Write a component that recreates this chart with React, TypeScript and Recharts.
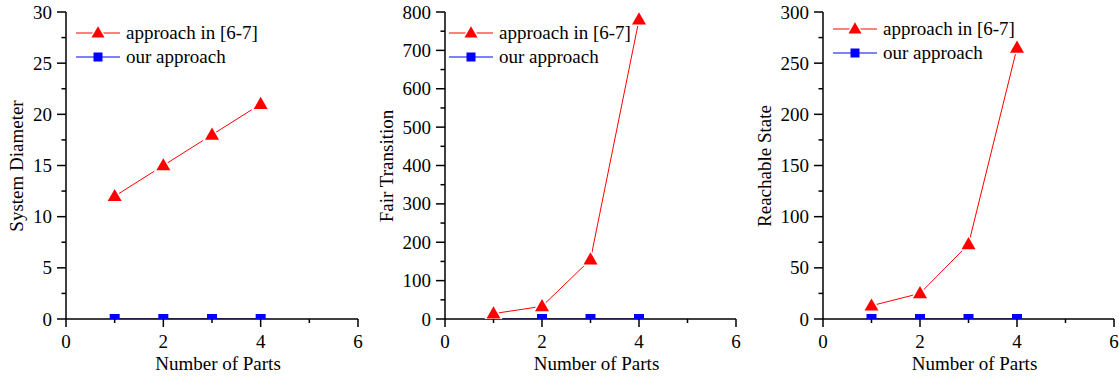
import React from "react";
import { LineChart, Line, XAxis, YAxis, Legend } from "recharts";

// x positions (number of parts) and axis ticks
const parts = [1, 2, 3, 4];
const xTicks = [0, 1, 2, 3, 4, 5, 6];
const xLabels = [0, 2, 4, 6];

const seriesNames = ["approach in [6-7]", "our approach"];

// System Diameter
const diameterPrior = [12, 15, 18, 21];
const diameterOurs = [0, 0, 0, 0];
const diameterTicks = [0, 2.5, 5, 7.5, 10, 12.5, 15, 17.5, 20, 22.5, 25, 27.5, 30];
const diameterLabels = [0, 5, 10, 15, 20, 25, 30];

// Fair Transition
const transitionPrior = [14, 33, 155, 780];
const transitionOurs = [0, 0, 0, 0];
const transitionTicks = [0, 50, 100, 150, 200, 250, 300, 350, 400, 450, 500, 550, 600, 650, 700, 750, 800];
const transitionLabels = [0, 100, 200, 300, 400, 500, 600, 700, 800];

// Reachable State
const reachablePrior = [13, 25, 73, 265];
const reachableOurs = [0, 0, 0, 0];
const reachableTicks = [0, 25, 50, 75, 100, 125, 150, 175, 200, 225, 250, 275, 300];
const reachableLabels = [0, 50, 100, 150, 200, 250, 300];

const FONT = "Liberation Serif";
const RED = "#ff0000";
const BLUE = "#0000ff";
const txt = { fontFamily: FONT, fontSize: 19 };

const makeRows = (prior: number[], ours: number[]) =>
  parts.map((p, i) => ({ x: p, prior: prior[i], ours: ours[i] }));

const Triangle = ({ cx, cy, size = 14 }: any) => {
  const h = size * 0.87;
  const pts = `${cx},${cy - h * 0.6} ${cx - size / 2},${cy + h * 0.4} ${cx + size / 2},${cy + h * 0.4}`;
  return (
    <g>
      <polygon points={pts} fill="#fff" stroke="#fff" strokeWidth={3} />
      <polygon points={pts} fill={RED} />
    </g>
  );
};

const Square = ({ cx, cy, size = 10 }: any) => (
  <rect x={cx - size / 2} y={cy - size / 2} width={size} height={size} fill={BLUE} />
);

const yTick = (labels: number[]) => (props: any) => {
  const { x, y, payload } = props;
  const major = labels.includes(payload.value);
  const len = major ? 9 : 4.5;
  return (
    <g>
      <line x1={x - len} x2={x} y1={y} y2={y} stroke="#000" strokeWidth={1.5} />
      {major && (
        <text x={x - 14} y={y + 6.5} textAnchor="end" style={txt} fill="#000">
          {payload.value}
        </text>
      )}
    </g>
  );
};

const xTick = (props: any) => {
  const { x, y, payload } = props;
  const major = xLabels.includes(payload.value);
  const len = major ? 8 : 4;
  return (
    <g>
      <line x1={x} x2={x} y1={y} y2={y + len} stroke="#000" strokeWidth={1.5} />
      {major && (
        <text x={x} y={y + 29} textAnchor="middle" style={txt} fill="#000">
          {payload.value}
        </text>
      )}
    </g>
  );
};

const LegendBox = () => (
  <svg width={260} height={50} style={{ display: "block" }}>
    <line x1={0} x2={44} y1={12} y2={12} stroke={RED} strokeWidth={1} />
    <Triangle cx={22} cy={12} size={13} />
    <text x={50} y={18} style={txt} fill="#000">{seriesNames[0]}</text>
    <line x1={0} x2={44} y1={36} y2={36} stroke={BLUE} strokeWidth={1} />
    <Square cx={22} cy={36} size={9} />
    <text x={50} y={42} style={txt} fill="#000">{seriesNames[1]}</text>
  </svg>
);

interface PanelProps {
  left: number;
  yWidth: number;
  right: number;
  yTitle: string;
  yTitleX: number;
  legendX: number;
  legendY: number;
  prior: number[];
  ours: number[];
  yMax: number;
  yTicks: number[];
  yLabels: number[];
}

const W = 373;
const H = 380;
const TOP = 12;
const BOTTOM = 319;

const Panel = (p: PanelProps) => {
  const plotCenter = p.yWidth + (W - p.yWidth - p.right) / 2;
  return (
    <div style={{ position: "absolute", left: p.left, top: 0 }}>
      <LineChart
        width={W}
        height={H}
        data={makeRows(p.prior, p.ours)}
        margin={{ top: TOP, right: p.right, left: 0, bottom: 0 }}
      >
        <XAxis
          dataKey="x"
          type="number"
          domain={[0, 6]}
          ticks={xTicks}
          interval={0}
          height={H - BOTTOM}
          tickSize={0}
          tickMargin={0}
          tickLine={false}
          tick={xTick}
          axisLine={{ stroke: "#000", strokeWidth: 1.5 }}
          label={{
            content: () => (
              <text x={plotCenter + 6} y={370} textAnchor="middle" style={txt} fill="#000">
                Number of Parts
              </text>
            ),
          }}
        />
        <XAxis
          xAxisId="top"
          orientation="top"
          type="number"
          domain={[0, 6]}
          height={0}
          tick={false}
          tickLine={false}
          axisLine={{ stroke: "#000", strokeWidth: 1.5 }}
        />
        <YAxis
          type="number"
          domain={[0, p.yMax]}
          ticks={p.yTicks}
          interval={0}
          width={p.yWidth}
          allowDataOverflow
          tickSize={0}
          tickMargin={0}
          tickLine={false}
          tick={yTick(p.yLabels)}
          axisLine={{ stroke: "#000", strokeWidth: 1.5 }}
          label={{
            content: () => (
              <text
                x={p.yTitleX}
                y={166}
                transform={`rotate(-90 ${p.yTitleX} 166)`}
                textAnchor="middle"
                dominantBaseline="central"
                style={txt}
                fill="#000"
              >
                {p.yTitle}
              </text>
            ),
          }}
        />
        <YAxis
          yAxisId="right"
          orientation="right"
          width={0}
          tick={false}
          tickLine={false}
          axisLine={{ stroke: "#000", strokeWidth: 1.5 }}
        />
        <Legend
          layout="vertical"
          align="center"
          verticalAlign="middle"
          wrapperStyle={{ left: p.legendX, top: p.legendY, width: 260, height: 50 }}
          content={() => <LegendBox />}
        />
        <Line
          dataKey="ours"
          name={seriesNames[1]}
          stroke={BLUE}
          strokeWidth={1}
          isAnimationActive={false}
          dot={(d: any) => <Square key={`s-${d.index}`} cx={d.cx} cy={d.cy} />}
        />
        <Line
          dataKey="prior"
          name={seriesNames[0]}
          stroke={RED}
          strokeWidth={1}
          isAnimationActive={false}
          dot={(d: any) => <Triangle key={`t-${d.index}`} cx={d.cx} cy={d.cy} />}
        />
      </LineChart>
    </div>
  );
};

export default function App() {
  return (
    <div style={{ position: "absolute", left: 0, top: 0, width: 1119, height: 380, background: "#fff", fontFamily: FONT }}>
      <Panel
        left={0}
        yWidth={66}
        right={15}
        yTitle="System Diameter"
        yTitleX={16}
        legendX={76}
        legendY={21}
        prior={diameterPrior}
        ours={diameterOurs}
        yMax={30}
        yTicks={diameterTicks}
        yLabels={diameterLabels}
      />
      <Panel
        left={373}
        yWidth={72}
        right={10}
        yTitle="Fair Transition"
        yTitleX={13}
        legendX={76}
        legendY={21}
        prior={transitionPrior}
        ours={transitionOurs}
        yMax={800}
        yTicks={transitionTicks}
        yLabels={transitionLabels}
      />
      <Panel
        left={746}
        yWidth={77}
        right={5}
        yTitle="Reachable State"
        yTitleX={18}
        legendX={87}
        legendY={17}
        prior={reachablePrior}
        ours={reachableOurs}
        yMax={300}
        yTicks={reachableTicks}
        yLabels={reachableLabels}
      />
    </div>
  );
}
